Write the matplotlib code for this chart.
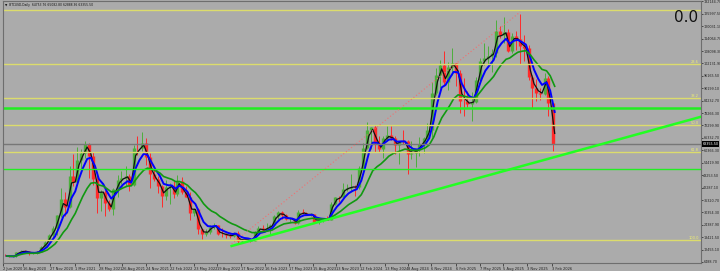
import matplotlib
matplotlib.use('Agg')
import matplotlib.pyplot as plt
import pandas as pd

# half-month candles, BTCUSD daily chart
dates = pd.date_range('2020-06-01', '2026-02-01', freq='SMS')
first_open = 9500
close = [9400, 9150, 9200, 11100, 11800, 11650, 10700, 10780, 11500, 13800, 16100, 19700, 23000, 29000,
         36800, 33100, 47900, 45200, 55600, 58800, 63200, 57700, 46400, 37300, 40200, 35000,
         32000, 41500, 46000, 47100, 47800, 43800, 61600, 61300, 63600, 57000, 48900, 46300,
         43100, 38500, 42500, 43200, 39300, 45500, 40400, 37700, 30000, 31800, 22500, 19900,
         20800, 23300, 24300, 20000, 19800, 19400, 19100, 20500, 16600, 17100, 17400, 16500,
         20800, 23100, 21800, 23100, 24100, 28500, 30400, 29300, 27000, 27200, 25500, 30500,
         30300, 29200, 29400, 26000, 26600, 27000, 26900, 34500, 37800, 37700, 41900, 42300,
         42800, 42600, 51800, 61200, 70000, 71300, 63800, 60700, 66200, 67500, 66000, 62700,
         64800, 64600, 58700, 59000, 60300, 63300, 66000, 70200, 87800, 96400, 101400, 93400,
         100500, 102400, 97500, 84300, 84000, 82500, 83700, 94200, 103500, 104600, 105800, 107100,
         117700, 115700, 117300, 108200, 115300, 114000, 110800, 109500, 95500, 90400, 88000, 87500,
         95000, 83000, 63355.5]
high = [10400, 9800, 9400, 11400, 12100, 12450, 12000, 11100, 11700, 14000, 16500, 19900, 24000, 29300,
        42000, 40000, 52600, 58300, 61800, 61000, 64800, 64000, 59500, 50000, 41300, 41000,
        36500, 42300, 48200, 50500, 52900, 48800, 62900, 67000, 69000, 66300, 59000, 52000,
        47900, 43500, 45800, 44500, 45300, 48200, 47400, 42900, 40000, 32500, 32400, 22000,
        22500, 24300, 25200, 24500, 22800, 20400, 20400, 21000, 21400, 17200, 18000, 17900,
        21300, 23900, 24200, 25200, 24600, 29200, 30900, 31000, 29800, 28400, 27400, 31400,
        31800, 30400, 30200, 29500, 27200, 27500, 28600, 35200, 38000, 38400, 44700, 44000,
        48900, 43500, 52800, 64000, 73800, 71600, 72700, 67000, 67000, 71900, 71900, 67000,
        64900, 70000, 65500, 65000, 61000, 66500, 66500, 73600, 93200, 99800, 104000, 108300,
        102700, 109400, 102500, 99000, 95000, 88800, 88500, 95800, 105000, 111900, 110600, 108900,
        123200, 120200, 124500, 118600, 116800, 117900, 126200, 116000, 111200, 96800, 94600, 90500,
        97500, 96000, 79000]
low = [9300, 8900, 9000, 9100, 10700, 11100, 9900, 10200, 10400, 11300, 13200, 15800, 18000, 19300,
       28200, 28800, 32300, 43000, 45000, 50400, 56800, 47000, 43500, 30000, 31000, 28800,
       31100, 29300, 37600, 43900, 43000, 40800, 43300, 58000, 60000, 53300, 42000, 45600,
       39600, 33000, 36300, 34300, 37200, 38100, 39200, 37600, 26700, 28700, 20100, 17600,
       18800, 20200, 22500, 19600, 18500, 18200, 18200, 18300, 15600, 15500, 16700, 16300,
       16500, 20400, 21400, 21500, 19600, 24000, 27200, 27100, 26800, 25800, 24900, 24800,
       29500, 28900, 28600, 25200, 24900, 26000, 26500, 26500, 34000, 35500, 37600, 40500,
       40700, 38500, 41800, 50700, 60800, 60800, 59700, 59600, 56500, 64600, 65100, 58400,
       53500, 63400, 49000, 56100, 52500, 57600, 58900, 65000, 66800, 87000, 90500, 92000,
       89200, 96500, 91200, 78200, 76600, 81200, 74500, 83100, 92800, 101400, 100400, 98200,
       105300, 114500, 112000, 107600, 107300, 108700, 102000, 103500, 94000, 80600, 84000, 84500,
       87000, 77000, 60000]

last_price = 63355.5
fib_high = 127900
fib_low = 17100
fib_levels = [0.0, 23.6, 38.2, 50.0, 61.8, 100.0]
green_levels = [80700, 51300]
trend_dates = ['2022-10-13', '2027-08-20']
trend_prices = [14200, 76400]
fib_line_dates = ['2022-10-13', '2025-10-08']
fib_line_prices = [15200, 127000]

y_ticks = [6488.70, 12455.10, 18421.50, 24387.90, 30354.30, 36320.70, 42287.10, 48253.50,
           54419.90, 60366.30, 66332.70, 72299.90, 78266.30, 84232.70, 90199.10, 96165.50,
           102131.90, 108098.30, 114064.70, 120031.10, 125997.50, 132144.70]
x_tick_labels = ['2 Jun 2020', '16 Aug 2020', '27 Nov 2020', '1 Mar 2021', '28 May 2021', '26 Aug 2021',
                 '24 Nov 2021', '22 Feb 2022', '23 May 2022', '19 Aug 2022', '17 Nov 2022', '16 Feb 2023',
                 '17 May 2023', '15 Aug 2023', '13 Nov 2023', '12 Feb 2024', '13 May 2024', '8 Aug 2024',
                 '6 Nov 2024', '6 Feb 2025', '7 May 2025', '5 Aug 2025', '3 Nov 2025', '3 Feb 2026']

bg = '#ababab'
fig = plt.figure(figsize=(7.2, 2.71), dpi=100, facecolor=bg)
ax = fig.add_axes([3 / 720, 8 / 271, 697.5 / 720, 261.8 / 271])
ax.set_facecolor(bg)

df = pd.DataFrame({'close': close, 'high': high, 'low': low}, index=dates)
df['open'] = [first_open] + close[:-1]
mid = df.index + pd.Timedelta(days=7)

for t, row in zip(mid, df.itertuples()):
    col = '#4caf3c' if row.close >= row.open else '#ff2a2a'
    ax.vlines(t, row.low, row.high, color=col, lw=0.7)
    ax.vlines(t, min(row.open, row.close), max(row.open, row.close), color=col, lw=2.4)

end = df.index + pd.Timedelta(days=14)
black_ma = df['close'].ewm(span=1.6).mean()
blue_ma = df['close'].ewm(span=4).mean()
green_ma = df['close'].ewm(span=12).mean()
ax.plot(end, black_ma, color='#111111', lw=0.9)
ax.plot(end, blue_ma, color='#0000ff', lw=1.4)
ax.plot(end, green_ma, color='#119911', lw=1.2)

# fibonacci levels
for lv in fib_levels:
    p = fib_high - (fib_high - fib_low) * lv / 100
    ax.axhline(p, color='#dcdc6c', lw=1)
    if lv > 0:
        ax.text(0.998, p, '%.1f' % lv, transform=ax.get_yaxis_transform(), ha='right', va='bottom',
                fontsize=2.6, color='#f0f070')

for p, w in zip(green_levels, [1.8, 1.0]):
    ax.axhline(p, color='#22ee22', lw=w)
ax.axhline(last_price, color='#777777', lw=1)

ax.plot(pd.to_datetime(trend_dates), trend_prices, color='#22ff22', lw=1.8)
ax.plot(pd.to_datetime(fib_line_dates), fib_line_prices, color='#f07070', lw=0.8, ls=(0, (1, 2)))

ax.set_ylim(6006.8, 132144.7)
ax.set_xlim(pd.Timestamp('2020-06-01'), pd.Timestamp('2027-08-20'))

ax.yaxis.tick_right()
ax.set_yticks(y_ticks)
ax.set_yticklabels(['%.2f' % v for v in y_ticks])
tick_dates = pd.to_datetime(x_tick_labels, format='%d %b %Y')
ax.set_xticks(tick_dates)
ax.set_xticklabels(x_tick_labels, ha='left')
ax.tick_params(axis='x', labelsize=2.6, length=2, width=0.5, pad=1, colors='#222222')
ax.tick_params(axis='y', labelsize=2.4, length=1.5, width=0.5, pad=0.5, colors='#222222')
for s in ax.spines.values():
    s.set_color('#6e6e6e')
    s.set_linewidth(0.8)

ax.text(1.003, last_price, '%.2f' % last_price, transform=ax.get_yaxis_transform(), clip_on=False,
        fontsize=2.4, color='white', va='center', ha='left',
        bbox=dict(facecolor='black', edgecolor='none', pad=0.5))

fig.text(5 / 720, 1 - 5 / 271, '\u25bc  BTCUSD,Daily  64753.76 65082.80 62888.36 63355.50',
         fontsize=2.2, color='#111111', va='center', ha='left')
fig.text(674 / 720, 1 - 18 / 271, '0.0', fontsize=11, color='#111111', va='center', ha='left')

fig.savefig('out.png', dpi=100, facecolor=bg)
